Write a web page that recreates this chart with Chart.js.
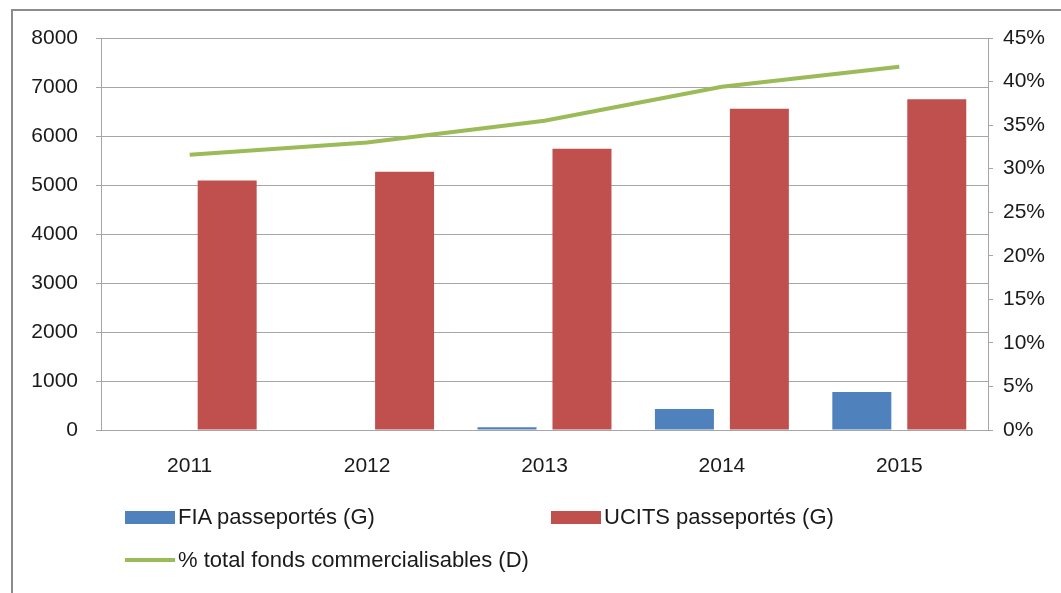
<!DOCTYPE html>
<html>
<head>
<meta charset="utf-8">
<script src="https://cdn.jsdelivr.net/npm/chart.js@4.4.0/dist/chart.umd.min.js"></script>
<style>
  body { margin: 0; background: #fff; }
  #wrap { position: relative; width: 1061px; height: 593px; overflow: hidden; }
  #frame { position: absolute; left: 11px; top: 9px; width: 1100px; height: 700px;
           border-left: 2px solid #8c8c8c; border-top: 2px solid #8c8c8c; }
  #chart { position: absolute; left: 0; top: 0; }
  .leg { position: absolute; height: 28px; display: flex; align-items: center;
         font: 22px "Liberation Sans", sans-serif; color: #1a1a1a; white-space: nowrap; }
  .sw { display: inline-block; width: 50px; margin-right: 3px; }
</style>
</head>
<body>
<div id="wrap">
  <div id="frame"></div>
  <canvas id="chart" width="1061" height="593"></canvas>
  <div id="legend"></div>
</div>
<script>
// data
const years = ['2011', '2012', '2013', '2014', '2015'];
const fiaValues = [0, 0, 55, 430, 775];
const ucitsValues = [5090, 5270, 5740, 6555, 6750];
const pctValues = [31.6, 33.0, 35.5, 39.4, 41.7];
const leftRange = [0, 8000, 1000];   // min, max, step
const rightRange = [0, 45, 5];
const seriesLabels = ['FIA passeportés (G)', 'UCITS passeportés (G)', '% total fonds commercialisables (D)'];

const blue = '#4F81BD';
const red = '#C0504D';
const green = '#9BBB59';
const axisGrey = '#a6a6a6';
const tickFont = { family: 'Liberation Sans', size: 21 };

const ctx = document.getElementById('chart');

const chart = new Chart(ctx, {
  type: 'bar',
  data: {
    labels: years,
    datasets: [
      {
        type: 'line',
        label: seriesLabels[2],
        data: pctValues,
        yAxisID: 'y1',
        borderColor: green,
        borderWidth: 4,
        pointRadius: 0,
        tension: 0,
        order: 0
      },
      {
        label: seriesLabels[0],
        data: fiaValues,
        backgroundColor: blue,
        categoryPercentage: 0.845,
        barPercentage: 0.787,
        order: 1
      },
      {
        label: seriesLabels[1],
        data: ucitsValues,
        backgroundColor: red,
        categoryPercentage: 0.845,
        barPercentage: 0.787,
        order: 1
      }
    ]
  },
  options: {
    responsive: false,
    animation: false,
    layout: { padding: { left: 0, right: 0, top: 38, bottom: 113 } },
    plugins: {
      legend: { display: false },
      tooltip: { enabled: false }
    },
    scales: {
      x: {
        grid: { display: false },
        border: { color: axisGrey, width: 1 },
        ticks: { color: '#1a1a1a', font: tickFont, padding: 16 },
        afterFit: (scale) => { scale.height = 50; }
      },
      y: {
        position: 'left',
        min: leftRange[0],
        max: leftRange[1],
        ticks: {
          stepSize: leftRange[2], color: '#1a1a1a', font: tickFont, padding: 18,
          callback: (v) => String(v)
        },
        grid: { color: axisGrey, tickLength: 5 },
        border: { color: axisGrey, width: 1 },
        afterFit: (scale) => { scale.width = 101; }
      },
      y1: {
        position: 'right',
        min: rightRange[0],
        max: rightRange[1],
        ticks: {
          stepSize: rightRange[2], color: '#1a1a1a', font: tickFont, padding: 10,
          callback: (v) => v + '%'
        },
        grid: { drawOnChartArea: false, color: axisGrey, tickLength: 5 },
        border: { color: axisGrey, width: 1 },
        afterFit: (scale) => { scale.width = 73; }
      }
    }
  }
});

// legend laid out like the original (two rows, left aligned)
const legendSpots = [[125, 503], [551, 503], [125, 546]];
const legendEl = document.getElementById('legend');
[1, 2, 0].forEach((dsIndex, i) => {
  const ds = chart.data.datasets[dsIndex];
  const item = document.createElement('div');
  item.className = 'leg';
  item.style.left = legendSpots[i][0] + 'px';
  item.style.top = legendSpots[i][1] + 'px';
  const sw = document.createElement('span');
  sw.className = 'sw';
  if (ds.type === 'line') {
    sw.style.height = '4px';
    sw.style.background = ds.borderColor;
  } else {
    sw.style.height = '13px';
    sw.style.background = ds.backgroundColor;
  }
  item.appendChild(sw);
  item.appendChild(document.createTextNode(ds.label));
  legendEl.appendChild(item);
});
</script>
</body>
</html>
